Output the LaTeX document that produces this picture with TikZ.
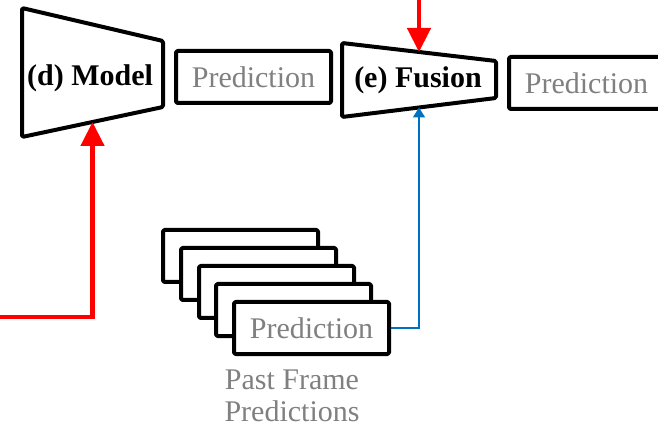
\documentclass[tikz,border=0pt]{standalone}
\usepackage{fontspec}
\setmainfont{Liberation Serif}
\usetikzlibrary{arrows.meta,calc}
\definecolor{predgray}{HTML}{808080}
\definecolor{pastblue}{HTML}{0070C0}
\definecolor{fwdred}{HTML}{FF0000}
\begin{document}
\begin{tikzpicture}[x=1pt,y=-1pt,
  outline/.style={draw=black,line width=4pt,line join=round,rounded corners=1.5pt},
  predbox/.style={outline,fill=white,minimum width=155pt,minimum height=52pt,
    inner sep=0pt,anchor=north west,text=predgray,font=\fontsize{30}{32}\selectfont},
  blocklabel/.style={font=\fontsize{30}{32}\selectfont\bfseries},
  redarrow/.style={draw=fwdred,line width=4.5pt,-{Triangle[width=23pt,length=24pt]}},
  bluearrow/.style={draw=pastblue,line width=1.6pt,-{Triangle[width=12pt,length=10pt]}}]
\clip (0,0) rectangle (658,427);

% (d) Model block
\coordinate (m1) at (22,8);
\coordinate (m2) at (163,41);
\coordinate (m3) at (163,107);
\coordinate (m4) at (22,137);
\draw[outline] (m1) -- (m2) -- (m3) -- (m4) -- cycle;
\node[blocklabel] (model) at (90,78) {(d) Model};
\coordinate (modelin) at ($(m3)!0.5!(m4)$);

% output of the model
\node[predbox] (pred1) at (174,49) {Prediction};

% (e) Fusion block
\coordinate (f1) at (342,43);
\coordinate (f2) at (496,61);
\coordinate (f3) at (496,98);
\coordinate (f4) at (342,117);
\draw[outline] (f1) -- (f2) -- (f3) -- (f4) -- cycle;
\node[blocklabel] (fusion) at (418,80) {(e) Fusion};
\coordinate (fusiontop) at ($(f1)!0.5!(f2)$);
\coordinate (fusionbot) at ($(f3)!0.5!(f4)$);

% fused output
\node[predbox] (pred2) at (507,55) {Prediction};

% stack of past frame predictions, back to front
\node[predbox] (past1) at (161,228) {};
\node[predbox] (past2) at (179,246) {};
\node[predbox] (past3) at (197,264) {};
\node[predbox] (past4) at (214,282) {};
\node[predbox] (past5) at (232,300) {Prediction};
\node[text=predgray,font=\fontsize{30}{32}\selectfont,align=center] (pastcap) at (292,396)
  {Past Frame\\Predictions};

% connectors
\coordinate (redin) at (0,317);
\coordinate (redtop) at (419,0);
\draw[redarrow] (redin) -| (modelin);
\draw[redarrow] (redtop) -- (fusiontop);
\draw[bluearrow] (past5.east) -| (fusionbot);
\end{tikzpicture}
\end{document}
